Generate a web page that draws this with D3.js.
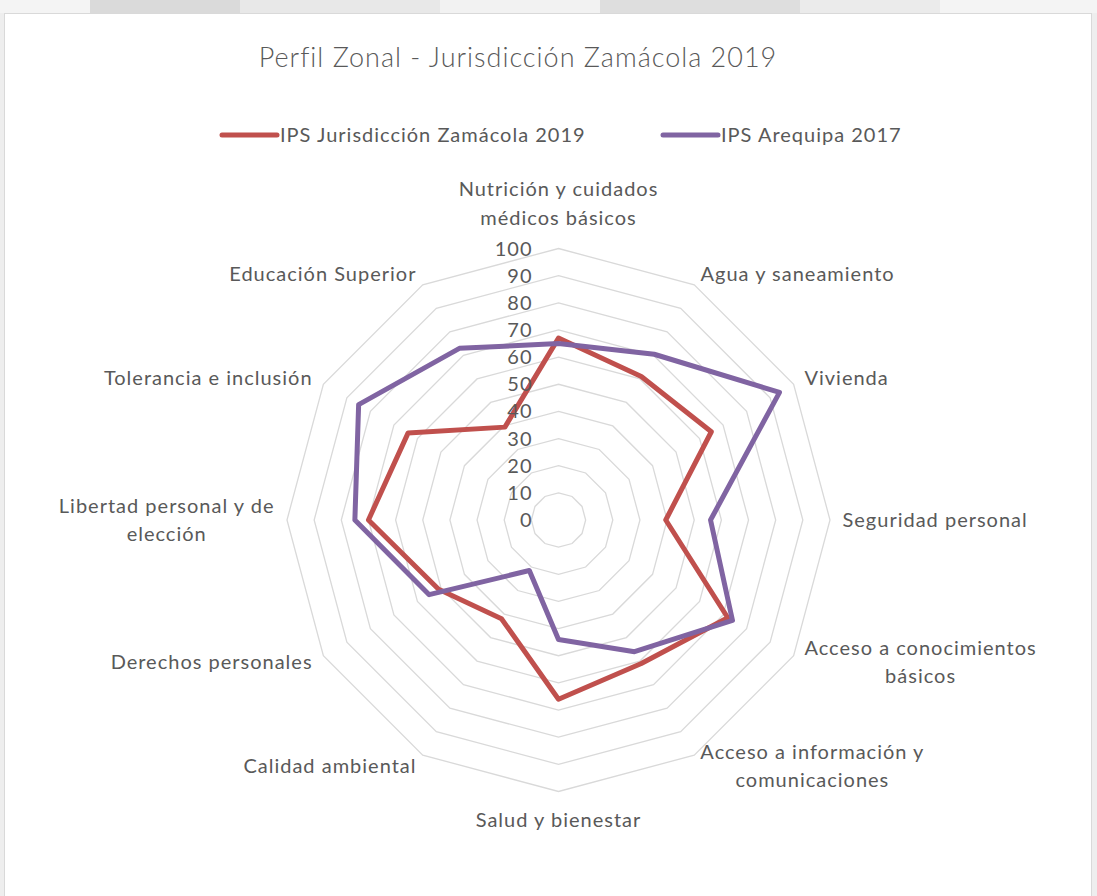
<!DOCTYPE html>
<html>
<head>
<meta charset="utf-8">
<script src="https://cdn.jsdelivr.net/npm/d3@7"></script>
<style>
  html, body { margin: 0; padding: 0; }
  body { width: 1097px; height: 896px; overflow: hidden; background: #ededed; }
  svg { display: block; }
</style>
</head>
<body>
<svg id="chart" width="1097" height="896"></svg>
<script>
// ---- data ----
const categories = [
  "Nutrición y cuidados\nmédicos básicos",
  "Agua y saneamiento",
  "Vivienda",
  "Seguridad personal",
  "Acceso a conocimientos\nbásicos",
  "Acceso a información y\ncomunicaciones",
  "Salud y bienestar",
  "Calidad ambiental",
  "Derechos personales",
  "Libertad personal y de\nelección",
  "Tolerancia e inclusión",
  "Educación Superior"
];
const seriesNames = ["IPS Jurisdicción Zamácola 2019", "IPS Arequipa 2017"];
const zamacola2019 = [67, 61, 65, 39.5, 72, 61, 66, 42, 51, 70, 64, 39.5];
const arequipa2017 = [65, 70.5, 94, 56, 74, 56, 44, 21.5, 55, 75, 85, 73];
const tickValues = [0, 10, 20, 30, 40, 50, 60, 70, 80, 90, 100];
const title = "Perfil Zonal - Jurisdicción Zamácola 2019";

// ---- layout ----
const svg = d3.select("#chart");
const cx = 558.5, cy = 520, R = 271.5;
const colors = ["#C0504D", "#8064A2"];
const textColor = "#595959";
const font = "Lato, 'Open Sans', sans-serif";
const fs = 20, ls = 1.0;

// faded background strips
const bg = svg.append("g");
bg.append("rect").attr("x", 0).attr("y", 0).attr("width", 1097).attr("height", 896).attr("fill", "#eeeeee");
[[0, 0, 90, 13, "#f4f4f4"], [90, 0, 150, 13, "#dadada"], [240, 0, 200, 13, "#e8e8e8"],
 [440, 0, 160, 13, "#f2f2f2"], [600, 0, 200, 13, "#dedede"], [800, 0, 140, 13, "#ebebeb"],
 [940, 0, 157, 13, "#f4f4f4"]].forEach(d => {
  bg.append("rect").attr("x", d[0]).attr("y", d[1]).attr("width", d[2]).attr("height", d[3]).attr("fill", d[4]);
});
svg.append("rect").attr("x", 4.5).attr("y", 13.5).attr("width", 1087).attr("height", 890)
  .attr("fill", "#ffffff").attr("stroke", "#d9d9d9").attr("stroke-width", 1);

const n = categories.length;
const angle = d3.scaleLinear().domain([0, n]).range([0, 2 * Math.PI]);
const r = d3.scaleLinear().domain([0, 100]).range([0, R]);

// grid rings
const ringLine = d3.lineRadial().angle((d, i) => angle(i)).radius(d => r(d)).curve(d3.curveLinearClosed);
const g = svg.append("g").attr("transform", `translate(${cx},${cy})`);
g.append("g").selectAll("path")
  .data(tickValues.filter(v => v > 0))
  .join("path")
  .attr("d", v => ringLine(d3.range(n).map(() => v)))
  .attr("fill", "none")
  .attr("stroke", "#d9d9d9")
  .attr("stroke-width", 1.3);

// series
const seriesData = [zamacola2019, arequipa2017];
const seriesLine = d3.lineRadial().angle((d, i) => angle(i)).radius(d => r(d)).curve(d3.curveLinearClosed);
g.append("g").selectAll("path")
  .data(seriesData)
  .join("path")
  .attr("d", d => seriesLine(d))
  .attr("fill", "none")
  .attr("stroke", (d, i) => colors[i])
  .attr("stroke-width", 5)
  .attr("stroke-linejoin", "round");

// tick labels
g.append("g").selectAll("text")
  .data(tickValues)
  .join("text")
  .attr("x", -26)
  .attr("y", v => -r(v))
  .attr("dy", "0.35em")
  .attr("text-anchor", "end")
  .attr("font-family", font)
  .attr("font-size", fs)
  .attr("letter-spacing", ls)
  .attr("fill", textColor)
  .text(v => v);

// category labels
const labelR = R + 12.5;
const lineH = 28.5;
categories.forEach((cat, i) => {
  const a = angle(i);
  const s = Math.sin(a), c = Math.cos(a);
  const px = cx + labelR * s, py = cy - labelR * c;
  const lines = cat.split("\n");
  const t = svg.append("text")
    .attr("font-family", font)
    .attr("font-size", fs)
    .attr("letter-spacing", ls)
    .attr("fill", textColor)
    .attr("text-anchor", "middle");
  const spans = lines.map(l => t.append("tspan").text(l));
  const widths = spans.map(sp => sp.node().getComputedTextLength());
  const bw = d3.max(widths);
  const bh = lines.length * lineH;
  let left;
  if (s > 0.01) left = px; else if (s < -0.01) left = px - bw; else left = px - bw / 2;
  let top;
  if (Math.abs(s) < 0.01 && c > 0) top = py - bh - 4;
  else if (Math.abs(s) < 0.01 && c < 0) top = py + 2;
  else top = py - bh / 2;
  spans.forEach((sp, k) => {
    sp.attr("x", left + bw / 2).attr("y", top + lineH * k + lineH / 2).attr("dy", "0.35em");
  });
});

// title
svg.append("text")
  .attr("x", 518).attr("y", 58)
  .attr("dy", "0.35em")
  .attr("text-anchor", "middle")
  .attr("font-family", font)
  .attr("font-weight", 300)
  .attr("font-size", 27)
  .attr("letter-spacing", 1.0)
  .attr("fill", textColor)
  .text(title);

// legend
const legendX = [222, 663];
const legendY = 135;
const lg = svg.append("g");
seriesNames.forEach((name, i) => {
  lg.append("line")
    .attr("x1", legendX[i]).attr("x2", legendX[i] + 55)
    .attr("y1", legendY).attr("y2", legendY)
    .attr("stroke", colors[i]).attr("stroke-width", 5).attr("stroke-linecap", "round");
  lg.append("text")
    .attr("x", legendX[i] + 58).attr("y", legendY)
    .attr("dy", "0.35em")
    .attr("font-family", font)
    .attr("font-size", fs)
    .attr("letter-spacing", ls)
    .attr("fill", textColor)
    .text(name);
});
</script>
</body>
</html>
